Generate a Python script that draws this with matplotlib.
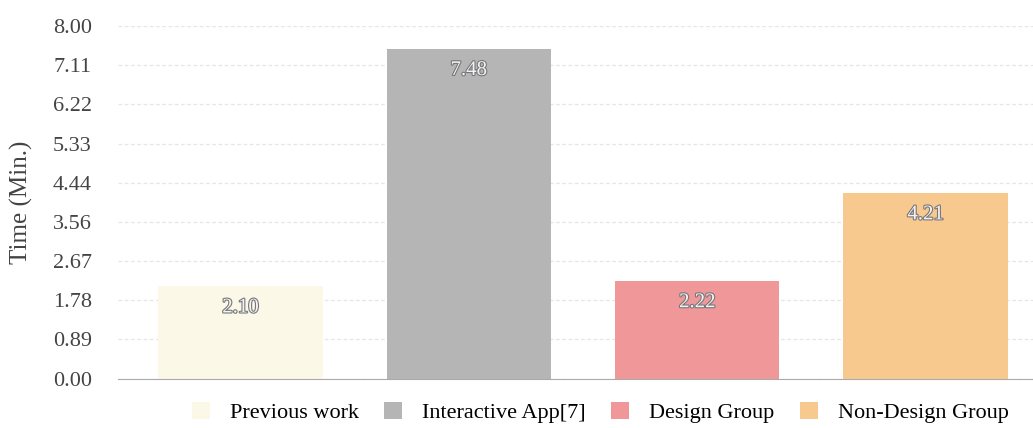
import matplotlib
matplotlib.use('Agg')
import matplotlib.pyplot as plt
import matplotlib.patheffects as pe
from matplotlib.patches import Patch

categories = ['Previous work', 'Interactive App[7]', 'Design Group', 'Non-Design Group']
values = [2.10, 7.48, 2.22, 4.21]
colors = ['#fbf8e8', '#b5b5b5', '#f0979a', '#f8c98f']
ticks = [0.00, 0.89, 1.78, 2.67, 3.56, 4.44, 5.33, 6.22, 7.11, 8.00]

plt.rcParams['font.family'] = ['Liberation Serif', 'DejaVu Serif']

fig = plt.figure(figsize=(10.33, 4.28), dpi=100)
ax = fig.add_axes([0.1145, 0.115, 0.8855, 0.825])

x = range(len(values))
ax.bar(x, values, width=0.72, color=colors, zorder=2)

for xi, v in zip(x, values):
    ax.text(xi, v - 0.28, f'{v:.2f}', ha='center', va='top', fontsize=15,
            color='#f4f2f8', zorder=3,
            path_effects=[pe.withStroke(linewidth=1.6, foreground='#777777')])

ax.set_ylim(0, 8)
ax.set_xlim(-0.535, 3.47)
ax.set_yticks(ticks)
ax.set_yticklabels([f'{t:.2f}' for t in ticks], fontsize=16, color='#444444')
ax.set_xticks([])
ax.set_ylabel('Time (Min.)', fontsize=18, color='#444444', labelpad=14)
ax.yaxis.grid(True, linestyle=(0, (3, 2)), color='#e6e6e6', lw=0.9, zorder=0)
ax.tick_params(axis='y', length=0, pad=19)
for s in ['top', 'right', 'left']:
    ax.spines[s].set_visible(False)
ax.spines['bottom'].set_color('#aaaaaa')

handles = [Patch(facecolor=c, label=l) for c, l in zip(colors, categories)]
fig.legend(handles=handles, loc='lower center', bbox_to_anchor=(0.581, -0.035),
           ncol=4, frameon=False, fontsize=16, handlelength=0.8, handleheight=0.8,
           columnspacing=1.15, handletextpad=0.9)

fig.savefig('out.png', dpi=100)
